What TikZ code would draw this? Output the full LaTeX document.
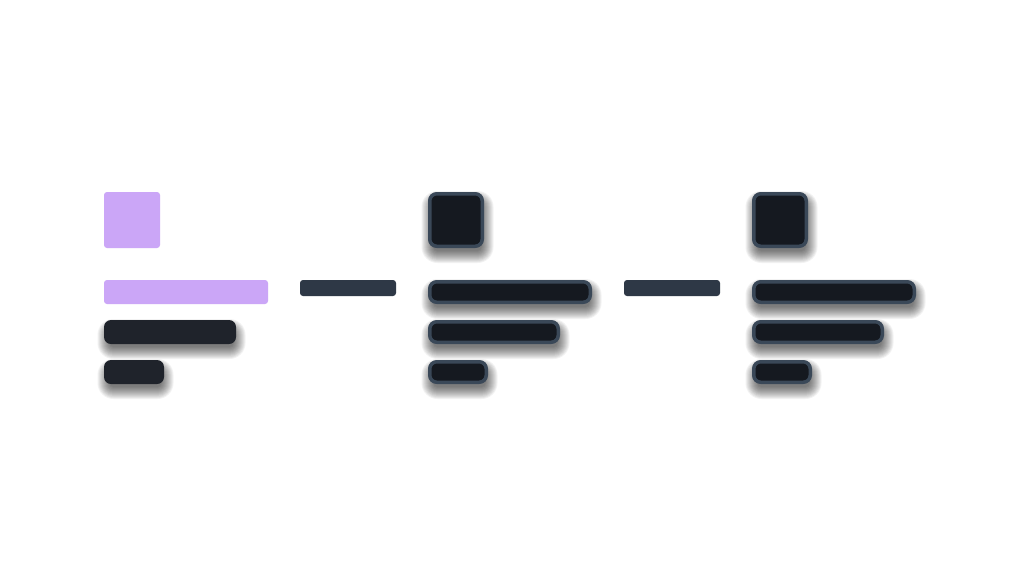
\documentclass[tikz,border=0pt]{standalone}
\usetikzlibrary{calc}
\definecolor{mauve}{HTML}{CBA6F7}
\definecolor{darkbar}{HTML}{1F232B}
\definecolor{linkbar}{HTML}{2E3846}
\definecolor{cellfill}{HTML}{151920}
\definecolor{cellborder}{HTML}{3A4858}
\pgfdeclarelayer{back}
\pgfdeclarelayer{shadowlayer}
\pgfsetlayers{back,shadowlayer,main}
\tikzset{
  base/.style={rectangle, inner sep=0pt, outer sep=0pt, anchor=north west},
  purple/.style={base, fill=mauve, rounded corners=3pt},
  plain/.style={base, fill=darkbar, rounded corners=7pt},
  link/.style={base, fill=linkbar, rounded corners=3pt},
  cell/.style={base, fill=cellfill, draw=cellborder, line width=3.5pt, rounded corners=7pt},
  shadowpiece/.style={fill=black, draw=none, fill opacity=0.05},
}
\newcommand{\myshadow}[2]{% node name, pad
  \foreach \e in {-4,-3,...,8}{
    \pgfmathsetmacro{\rr}{max(1,8+\e)}
    \fill[shadowpiece, rounded corners=\rr pt]
      ($(#1.north west)+({1.5-\e-#2},{7-\e-#2})$) rectangle
      ($(#1.south east)+({1.5+\e+#2},{7+\e+#2})$);
  }}
\begin{document}
\begin{tikzpicture}[x=1pt,y=-1pt]
\begin{pgfonlayer}{back}
\fill[white] (0,0) rectangle (1024,576);
\end{pgfonlayer}
\useasboundingbox (0,0) rectangle (1024,576);
% panel 1
\node[purple, minimum width=56pt, minimum height=56pt] (p1sq) at (104,192) {};
\node[purple, minimum width=164pt, minimum height=24pt] (p1b1) at (104,280) {};
\node[plain, minimum width=132pt, minimum height=24pt] (p1b2) at (104,320) {};
\node[plain, minimum width=60pt, minimum height=24pt] (p1b3) at (104,360) {};
% links
\node[link, minimum width=96pt, minimum height=16pt] (l1) at (300,280) {};
\node[link, minimum width=96pt, minimum height=16pt] (l2) at (624,280) {};
% panel 2
\node[cell, minimum width=52.5pt, minimum height=52.5pt] (p2sq) at (429.75,193.75) {};
\node[cell, minimum width=160.5pt, minimum height=20.5pt] (p2b1) at (429.75,281.75) {};
\node[cell, minimum width=128.5pt, minimum height=20.5pt] (p2b2) at (429.75,321.75) {};
\node[cell, minimum width=56.5pt, minimum height=20.5pt] (p2b3) at (429.75,361.75) {};
% panel 3
\node[cell, minimum width=52.5pt, minimum height=52.5pt] (p3sq) at (753.75,193.75) {};
\node[cell, minimum width=160.5pt, minimum height=20.5pt] (p3b1) at (753.75,281.75) {};
\node[cell, minimum width=128.5pt, minimum height=20.5pt] (p3b2) at (753.75,321.75) {};
\node[cell, minimum width=56.5pt, minimum height=20.5pt] (p3b3) at (753.75,361.75) {};
% shadows
\begin{pgfonlayer}{shadowlayer}
\myshadow{p1b2}{0}
\myshadow{p1b3}{0}
\myshadow{p2sq}{1.75}
\myshadow{p2b1}{1.75}
\myshadow{p2b2}{1.75}
\myshadow{p2b3}{1.75}
\myshadow{p3sq}{1.75}
\myshadow{p3b1}{1.75}
\myshadow{p3b2}{1.75}
\myshadow{p3b3}{1.75}
\end{pgfonlayer}
\end{tikzpicture}
\end{document}
